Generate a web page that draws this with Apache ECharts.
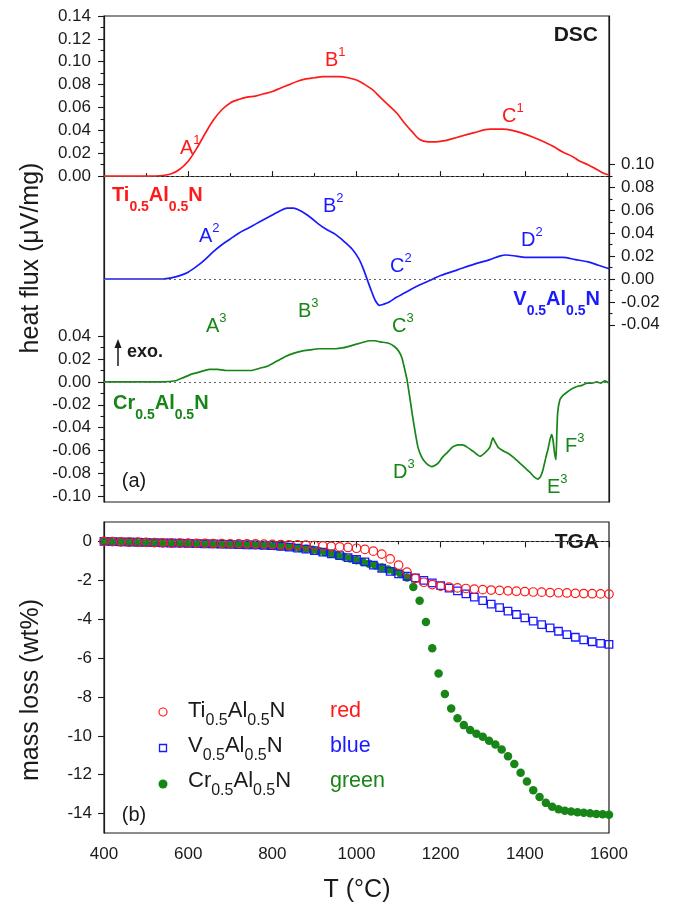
<!DOCTYPE html>
<html>
<head>
<meta charset="utf-8">
<script src="https://cdn.jsdelivr.net/npm/echarts@6/dist/echarts.min.js"></script>
<style>
html,body{margin:0;padding:0;background:#fff}
#chart{width:679px;height:909px}
</style>
</head>
<body>
<div id="chart"></div>
<script>
// ---- DSC curves: [temperature °C, heat flux µV/mg] ----
const dscTi = [[400,0],[500,0],[540,0.0005],[560,0.002],[580,0.006],[600,0.013],[620,0.024],[640,0.037],[660,0.049],[680,0.058],[700,0.064],[720,0.067],[740,0.069],[760,0.070],[780,0.072],[800,0.074],[820,0.077],[840,0.080],[860,0.083],[880,0.085],[900,0.086],[920,0.087],[940,0.087],[960,0.087],[980,0.086],[1000,0.084],[1020,0.080],[1040,0.075],[1056,0.069],[1076,0.062],[1096,0.055],[1115,0.046],[1134,0.038],[1150,0.032],[1170,0.030],[1190,0.030],[1210,0.031],[1240,0.034],[1280,0.038],[1317,0.041],[1348,0.041],[1370,0.040],[1390,0.038],[1420,0.034],[1445,0.030],[1467,0.026],[1490,0.021],[1514,0.017],[1531,0.013],[1550,0.010],[1570,0.006],[1590,0.002],[1600,0.001]];

const dscV = [[400,0],[540,0],[560,0.001],[580,0.003],[600,0.006],[620,0.011],[640,0.017],[660,0.024],[680,0.030],[700,0.035],[720,0.040],[740,0.044],[760,0.048],[780,0.052],[800,0.056],[820,0.060],[835,0.062],[850,0.062],[870,0.059],[890,0.054],[910,0.048],[930,0.043],[950,0.039],[970,0.033],[990,0.026],[1005,0.018],[1015,0.010],[1025,0.000],[1035,-0.010],[1045,-0.019],[1055,-0.023],[1065,-0.022],[1078,-0.020],[1095,-0.016],[1115,-0.012],[1140,-0.007],[1170,-0.002],[1200,0.003],[1240,0.008],[1280,0.013],[1317,0.017],[1340,0.020],[1355,0.021],[1380,0.020],[1400,0.019],[1430,0.019],[1460,0.019],[1490,0.019],[1520,0.017],[1550,0.015],[1575,0.012],[1600,0.009]];

const dscCr = [[400,0],[540,0],[570,0.001],[590,0.004],[610,0.007],[630,0.009],[650,0.011],[670,0.011],[690,0.010],[720,0.010],[750,0.010],[770,0.012],[790,0.014],[810,0.018],[830,0.022],[850,0.025],[870,0.027],[890,0.028],[910,0.029],[930,0.029],[950,0.029],[970,0.030],[990,0.032],[1010,0.034],[1030,0.036],[1045,0.036],[1056,0.035],[1075,0.034],[1090,0.031],[1100,0.027],[1108,0.021],[1114,0.012],[1120,0.002],[1126,-0.012],[1132,-0.027],[1139,-0.043],[1146,-0.057],[1154,-0.065],[1163,-0.070],[1172,-0.073],[1179,-0.074],[1186,-0.073],[1194,-0.071],[1204,-0.066],[1215,-0.062],[1228,-0.057],[1241,-0.055],[1252,-0.055],[1263,-0.057],[1278,-0.061],[1293,-0.065],[1305,-0.062],[1317,-0.057],[1324,-0.049],[1330,-0.053],[1336,-0.057],[1347,-0.060],[1358,-0.062],[1373,-0.066],[1388,-0.071],[1400,-0.075],[1412,-0.079],[1422,-0.083],[1431,-0.085],[1437,-0.083],[1443,-0.077],[1450,-0.066],[1455,-0.059],[1460,-0.050],[1464,-0.046],[1467,-0.051],[1471,-0.063],[1474,-0.068],[1476,-0.045],[1478,-0.027],[1483,-0.016],[1490,-0.012],[1500,-0.009],[1512,-0.006],[1524,-0.004],[1536,-0.003],[1548,-0.001],[1560,-0.001],[1571,0.000],[1580,-0.001],[1590,0.001],[1600,-0.001]];

// ---- TGA: mass loss (wt%) ----
const tgaTempTiV = [400,420,440,460,480,500,520,540,560,580,600,620,640,660,680,700,720,740,760,780,800,820,840,860,880,900,920,940,960,980,1000,1020,1040,1060,1080,1100,1120,1140,1160,1180,1200,1220,1240,1260,1280,1300,1320,1340,1360,1380,1400,1420,1440,1460,1480,1500,1520,1540,1560,1580,1600];
const tgaTi = [0.00,-0.01,-0.02,-0.03,-0.04,-0.05,-0.06,-0.07,-0.08,-0.08,-0.09,-0.10,-0.10,-0.11,-0.11,-0.12,-0.12,-0.13,-0.13,-0.14,-0.15,-0.16,-0.17,-0.18,-0.19,-0.21,-0.23,-0.25,-0.28,-0.31,-0.35,-0.41,-0.50,-0.65,-0.90,-1.22,-1.58,-1.90,-2.10,-2.22,-2.30,-2.35,-2.39,-2.42,-2.45,-2.48,-2.50,-2.52,-2.54,-2.56,-2.58,-2.60,-2.61,-2.63,-2.64,-2.65,-2.67,-2.68,-2.69,-2.70,-2.71];
const tgaV = [0.00,-0.01,-0.02,-0.03,-0.04,-0.05,-0.06,-0.07,-0.08,-0.09,-0.10,-0.11,-0.12,-0.13,-0.14,-0.15,-0.16,-0.17,-0.18,-0.20,-0.22,-0.25,-0.29,-0.34,-0.40,-0.47,-0.55,-0.64,-0.73,-0.83,-0.93,-1.05,-1.22,-1.38,-1.54,-1.67,-1.79,-1.88,-2.00,-2.13,-2.27,-2.40,-2.54,-2.70,-2.87,-3.05,-3.23,-3.41,-3.59,-3.76,-3.93,-4.10,-4.28,-4.45,-4.62,-4.79,-4.93,-5.06,-5.16,-5.24,-5.30];
const tgaTempCr = [400,415,430,445,460,475,490,505,520,535,550,565,580,595,610,625,640,655,670,685,700,715,730,745,760,775,790,805,820,835,850,865,880,895,910,925,940,955,970,985,1000,1015,1030,1045,1060,1075,1090,1105,1120,1135,1150,1165,1180,1195,1210,1225,1240,1255,1270,1285,1300,1315,1330,1345,1360,1375,1390,1405,1420,1435,1450,1465,1480,1495,1510,1525,1540,1555,1570,1585,1600];
const tgaCr = [0.00,-0.01,-0.02,-0.03,-0.04,-0.05,-0.05,-0.06,-0.07,-0.07,-0.08,-0.09,-0.10,-0.10,-0.11,-0.12,-0.12,-0.13,-0.14,-0.15,-0.15,-0.16,-0.17,-0.18,-0.19,-0.20,-0.21,-0.23,-0.25,-0.27,-0.30,-0.34,-0.38,-0.43,-0.49,-0.56,-0.63,-0.71,-0.79,-0.88,-0.97,-1.06,-1.15,-1.24,-1.34,-1.44,-1.55,-1.67,-1.85,-2.35,-3.05,-4.15,-5.50,-6.80,-7.85,-8.60,-9.10,-9.45,-9.70,-9.90,-10.05,-10.25,-10.45,-10.70,-11.05,-11.45,-11.90,-12.35,-12.80,-13.15,-13.45,-13.65,-13.78,-13.85,-13.90,-13.93,-13.96,-13.99,-14.02,-14.04,-14.06];

// ---- axis tick values ----
const tiTicks = [0, 0.02, 0.04, 0.06, 0.08, 0.10, 0.12, 0.14];
const tiMinor = [0.01, 0.03, 0.05, 0.07, 0.09, 0.11, 0.13];
const crTicks = [-0.10, -0.08, -0.06, -0.04, -0.02, 0, 0.02, 0.04];
const crMinor = [-0.09, -0.07, -0.05, -0.03, -0.01, 0.01, 0.03];
const vTicks = [-0.04, -0.02, 0, 0.02, 0.04, 0.06, 0.08, 0.10];
const vMinor = [-0.03, -0.01, 0.01, 0.03, 0.05, 0.07, 0.09];
const tgaTicks = [0, -2, -4, -6, -8, -10, -12, -14];

const RED = '#ff1a1a', BLUE = '#1a1aff', GREEN = '#178517', INK = '#1a1a1a';
const FONT = '"Liberation Sans", Arial, Helvetica, sans-serif';

const zip = (xs, ys) => xs.map((x, i) => [x, ys[i]]);

function yAxisDef(grid, pos, min, max, ticks, opts) {
  return {
    type: 'value', gridIndex: grid, position: pos, offset: 0, min: min, max: max,
    axisLine: { show: !!opts.line, lineStyle: { color: INK, width: 1.2 } },
    axisTick: { show: true, length: opts.len, customValues: ticks, lineStyle: { color: INK, width: 1.1 } },
    axisLabel: { show: !!opts.label, customValues: ticks, margin: opts.margin || 12,
      formatter: opts.fmt, fontSize: 17, color: INK, fontFamily: FONT },
    splitLine: { show: false }
  };
}
const fmt2 = v => v.toFixed(2);
const fmt0 = v => String(Math.round(v));

function xAxisDef(grid, labels) {
  return {
    type: 'value', gridIndex: grid, min: 400, max: 1600, interval: 200,
    axisLine: { show: true, lineStyle: { color: INK, width: 1.2 } },
    axisTick: { show: true, inside: !labels, length: labels ? 6 : 5, lineStyle: { color: INK, width: 1.1 } },
    minorTick: { show: true, splitNumber: 2, length: 3, lineStyle: { color: INK, width: 1.1 } },
    axisLabel: { show: labels, margin: 13, fontSize: 17, color: INK, fontFamily: FONT, formatter: fmt0 },
    splitLine: { show: false }
  };
}

const zeroLine = {
  silent: true, symbol: ['none', 'none'], label: { show: false },
  lineStyle: { color: '#666', type: [2, 3], width: 1.2 },
  data: [{ yAxis: 0 }]
};

// rich text with sub/superscripts; Y is the vertical centre of the main glyphs
function richText(x, Y, text, o) {
  const F = o.size, f = o.small, pad = 12;
  const base = { fontFamily: FONT, fontWeight: o.weight || 'normal', fill: o.color, verticalAlign: 'top' };
  const rich = {
    m: Object.assign({ fontSize: F, padding: [pad, 0, 0, 0] }, base),
    b: Object.assign({ fontSize: f, padding: [pad + F / 2 + (o.sub || 0) - f / 2, 0, 0, 0] }, base),
    p: Object.assign({ fontSize: f, padding: [pad + F / 2 - (o.sup || 0) - f / 2, 0, 0, 0] }, base)
  };
  return {
    type: 'text', x: x, y: Y - F / 2 - pad, silent: true,
    style: { text: text, rich: rich, fill: o.color, fontFamily: FONT, fontSize: F,
      fontWeight: o.weight || 'normal',
      align: o.align || 'left', verticalAlign: 'top',
      textAlign: o.align || 'left', textVerticalAlign: 'top' }
  };
}
function plainText(x, y, text, o) {
  return {
    type: 'text', x: x, y: y, rotation: o.rotation || 0, silent: true,
    style: { text: text, fill: o.color || INK, fontFamily: FONT, fontSize: o.size,
      fontWeight: o.weight || 'normal',
      align: o.align || 'center', verticalAlign: 'middle',
      textAlign: o.align || 'center', textVerticalAlign: 'middle' }
  };
}
const peak = (x, y, letter, idx, color) =>
  richText(x, y, '{m|' + letter + '}{p|' + idx + '}', { size: 20, small: 13, sup: 8, color: color });
const formula = (x, y, parts, color, o) =>
  richText(x, y, parts.map(p => p[0] === 'b' ? '{b|' + p[1] + '}' : '{m|' + p[1] + '}').join(''),
    Object.assign({ color: color }, o));

const boldLbl = { size: 20, small: 14, sub: 12, weight: 'bold' };
const legLbl = { size: 22, small: 16, sub: 10 };
const TiF = [['m', 'Ti'], ['b', '0.5'], ['m', 'Al'], ['b', '0.5'], ['m', 'N']];
const VF = [['m', 'V'], ['b', '0.5'], ['m', 'Al'], ['b', '0.5'], ['m', 'N']];
const CrF = [['m', 'Cr'], ['b', '0.5'], ['m', 'Al'], ['b', '0.5'], ['m', 'N']];

const graphics = [
  plainText(31, 258, 'heat flux (\u03bcV/mg)', { size: 25, rotation: Math.PI / 2 }),
  plainText(31, 690, 'mass loss (wt%)', { size: 25, rotation: Math.PI / 2 }),
  plainText(357, 890, 'T (\u00b0C)', { size: 25 }),
  plainText(598, 35, 'DSC', { size: 21, weight: 'bold', align: 'right' }),
  plainText(599, 542, 'TGA', { size: 21, weight: 'bold', align: 'right' }),
  plainText(134, 481, '(a)', { size: 20 }),
  plainText(134, 815, '(b)', { size: 20 }),
  plainText(127, 352, 'exo.', { size: 18, weight: 'bold', align: 'left' }),
  { type: 'line', silent: true, shape: { x1: 118, y1: 366, x2: 118, y2: 346 }, style: { stroke: INK, lineWidth: 1.5 } },
  { type: 'polygon', silent: true, shape: { points: [[114.5, 348], [121.5, 348], [118, 339]] }, style: { fill: INK } },
  formula(112, 195, TiF, RED, boldLbl),
  formula(600, 299, VF, BLUE, Object.assign({ align: 'right' }, boldLbl)),
  formula(113, 403, CrF, GREEN, boldLbl),
  peak(180, 148, 'A', '1', RED), peak(325, 60, 'B', '1', RED), peak(502, 116, 'C', '1', RED),
  peak(199, 236, 'A', '2', BLUE), peak(323, 206, 'B', '2', BLUE), peak(390, 266, 'C', '2', BLUE), peak(521, 240, 'D', '2', BLUE),
  peak(206, 326, 'A', '3', GREEN), peak(298, 311, 'B', '3', GREEN), peak(392, 326, 'C', '3', GREEN),
  peak(393, 472, 'D', '3', GREEN), peak(547, 487, 'E', '3', GREEN), peak(565, 446, 'F', '3', GREEN),
  // legend
  { type: 'circle', silent: true, shape: { cx: 163, cy: 712, r: 4 }, style: { fill: 'none', stroke: RED, lineWidth: 1.2 } },
  { type: 'rect', silent: true, shape: { x: 159.5, y: 744.5, width: 7, height: 7 }, style: { fill: 'none', stroke: BLUE, lineWidth: 1.3 } },
  { type: 'circle', silent: true, shape: { cx: 163, cy: 784, r: 4.5 }, style: { fill: GREEN } },
  formula(188, 711, TiF, INK, legLbl),
  formula(188, 746, VF, INK, legLbl),
  formula(188, 781, CrF, INK, legLbl),
  plainText(330, 711, 'red', { size: 21.5, color: RED, align: 'left' }),
  plainText(330, 746, 'blue', { size: 21.5, color: BLUE, align: 'left' }),
  plainText(330, 781, 'green', { size: 21.5, color: GREEN, align: 'left' })
];

const chart = echarts.init(document.getElementById('chart'), null, { renderer: 'canvas' });
chart.setOption({
  animation: false,
  backgroundColor: '#fff',
  grid: [
    { left: 104, right: 70, top: 16, bottom: 407, show: true, borderColor: INK, borderWidth: 1.2, backgroundColor: 'transparent' },
    { left: 104, right: 70, top: 522, bottom: 76, show: true, borderColor: INK, borderWidth: 1.2, backgroundColor: 'transparent' }
  ],
  xAxis: [xAxisDef(0, false), xAxisDef(1, true)],
  yAxis: [
    yAxisDef(0, 'left', -0.285, 0.14, tiTicks, { line: true, label: true, len: 6, fmt: fmt2, margin: 13 }),
    yAxisDef(0, 'left', -0.105, 0.32, crTicks, { label: true, len: 6, fmt: fmt2, margin: 13 }),
    yAxisDef(0, 'right', -0.195, 0.23, vTicks, { line: true, label: true, len: 6, fmt: fmt2, margin: 12 }),
    yAxisDef(0, 'left', -0.285, 0.14, tiMinor, { len: 3.5 }),
    yAxisDef(0, 'left', -0.105, 0.32, crMinor, { len: 3.5 }),
    yAxisDef(0, 'right', -0.195, 0.23, vMinor, { len: 3.5 }),
    yAxisDef(1, 'left', -15, 1, tgaTicks, { line: true, label: true, len: 6, fmt: fmt0, margin: 12 })
  ],
  series: [
    { name: 'Ti DSC', type: 'line', xAxisIndex: 0, yAxisIndex: 0, data: dscTi, showSymbol: false, smooth: 0.3,
      lineStyle: { color: RED, width: 1.7 }, markLine: zeroLine },
    { name: 'V DSC', type: 'line', xAxisIndex: 0, yAxisIndex: 2, data: dscV, showSymbol: false, smooth: 0.3,
      lineStyle: { color: BLUE, width: 1.7 }, markLine: zeroLine },
    { name: 'Cr DSC', type: 'line', xAxisIndex: 0, yAxisIndex: 1, data: dscCr, showSymbol: false, smooth: 0.15,
      lineStyle: { color: GREEN, width: 1.7 }, markLine: zeroLine },
    { name: 'Cr TGA', type: 'scatter', xAxisIndex: 1, yAxisIndex: 6, data: zip(tgaTempCr, tgaCr),
      symbol: 'circle', symbolSize: 8.5, itemStyle: { color: GREEN, opacity: 1 } },
    { name: 'V TGA', type: 'scatter', xAxisIndex: 1, yAxisIndex: 6, data: zip(tgaTempTiV, tgaV),
      symbol: 'rect', symbolSize: 7.5, itemStyle: { color: 'rgba(0,0,0,0)', borderColor: BLUE, borderWidth: 1.3, opacity: 1 } },
    { name: 'Ti TGA', type: 'scatter', xAxisIndex: 1, yAxisIndex: 6, data: zip(tgaTempTiV, tgaTi),
      symbol: 'circle', symbolSize: 8.5, itemStyle: { color: 'rgba(0,0,0,0)', borderColor: RED, borderWidth: 1.2, opacity: 1 },
      markLine: zeroLine }
  ],
  graphic: graphics
});
</script>
</body>
</html>
